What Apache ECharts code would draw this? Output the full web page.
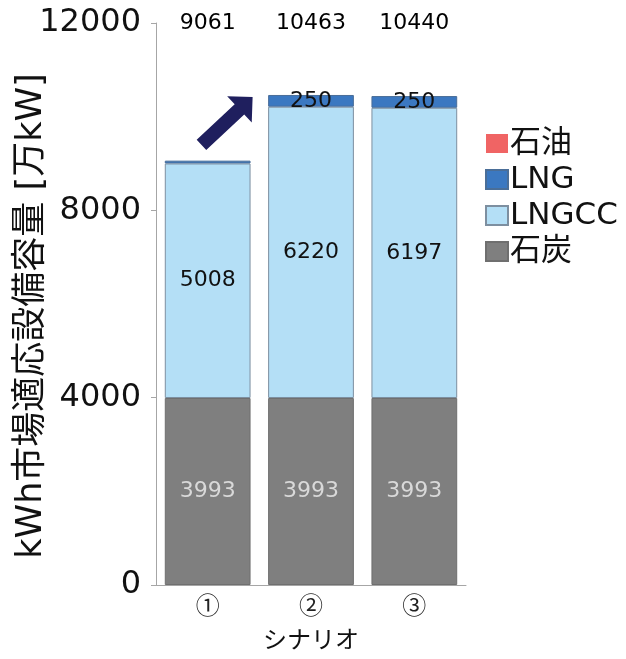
<!DOCTYPE html>
<html>
<head>
<meta charset="utf-8">
<script src="https://cdn.jsdelivr.net/npm/echarts@6/dist/echarts.min.js"></script>
<style>
html,body{margin:0;padding:0;background:#fff;}
#chart{width:626px;height:659px;}
</style>
</head>
<body>
<div id="chart"></div>
<script>
// ---- data ----
const categories = ['①', '②', '③'];
const coal = [3993, 3993, 3993];      // 石炭
const lngcc = [5008, 6220, 6197];     // LNGCC
const lng = [60, 250, 250];           // LNG
const oil = [0, 0, 0];                // 石油
const totals = [9061, 10463, 10440];
const yTicks = { min: 0, max: 12000, interval: 4000 };
// arrow annotation endpoints in data space (category index, value)
const arrowFrom = [-0.06, 9400];
const arrowTo = [0.435, 10420];

const FONT = 'DejaVu Sans, "Noto Sans CJK JP", sans-serif';
const JFONT = '"Noto Sans CJK JP", "DejaVu Sans", sans-serif';

const chart = echarts.init(document.getElementById('chart'));

const option = {
  animation: false,
  backgroundColor: '#ffffff',
  grid: { left: 156, right: 160, top: 23, bottom: 74, containLabel: false, outerBoundsMode: 'none' },
  legend: {
    data: ['石油', 'LNG', 'LNGCC', '石炭'],
    orient: 'vertical',
    left: 480,
    top: 123,
    itemWidth: 22,
    itemHeight: 19,
    itemGap: 5,
    icon: 'rect',
    selectedMode: false,
    textStyle: { fontFamily: FONT, fontSize: 31, color: '#111', lineHeight: 30, padding: [0, 0, 0, -3] }
  },
  xAxis: {
    type: 'category',
    data: categories,
    name: 'シナリオ',
    nameLocation: 'middle',
    nameGap: 42,
    nameTextStyle: { fontFamily: JFONT, fontSize: 24, color: '#111' },
    axisLine: { lineStyle: { color: '#a6a6a6', width: 1 } },
    axisTick: { show: false },
    axisLabel: { fontFamily: JFONT, fontSize: 24, color: '#222', margin: 8 }
  },
  yAxis: {
    type: 'value',
    min: yTicks.min,
    max: yTicks.max,
    interval: yTicks.interval,
    name: 'kWh市場適応設備容量 [万kW]',
    nameLocation: 'middle',
    nameGap: 107,
    nameMoveOverlap: false,
    nameTextStyle: { fontFamily: FONT, fontSize: 35, color: '#111', padding: [0, 24, 0, 0] },
    axisLine: { show: true, lineStyle: { color: '#a6a6a6', width: 1 } },
    axisTick: { show: true, length: 5, lineStyle: { color: '#a6a6a6' } },
    splitLine: { show: false },
    axisLabel: { fontFamily: FONT, fontSize: 32, color: '#111', margin: 15, formatter: v => String(v) }
  },
  series: [
    {
      name: '石炭', type: 'bar', stack: 'total', data: coal,
      barCategoryGap: '17%',
      itemStyle: { color: '#7f7f7f', borderColor: '#6f6f6f', borderWidth: 1 },
      label: { show: true, position: 'inside', fontFamily: FONT, fontSize: 22, color: '#d9d9d9' }
    },
    {
      name: 'LNGCC', type: 'bar', stack: 'total', data: lngcc,
      itemStyle: { color: '#b4dff6', borderColor: '#7d8fa0', borderWidth: 1 },
      label: { show: true, position: 'inside', fontFamily: FONT, fontSize: 22, color: '#111' }
    },
    {
      name: 'LNG', type: 'bar', stack: 'total', data: lng,
      itemStyle: { color: '#3b78c1', borderColor: '#4a6e98', borderWidth: 1 },
      label: {
        show: true, position: 'inside', fontFamily: FONT, fontSize: 22, color: '#111',
        formatter: p => (p.value >= 100 ? String(p.value) : '')
      }
    },
    {
      name: '石油', type: 'bar', stack: 'total', data: oil,
      itemStyle: { color: '#f06464', borderColor: '#d05050', borderWidth: 0 },
      label: { show: false }
    },
    {
      name: 'total', type: 'scatter',
      data: categories.map((c, i) => [i, yTicks.max]),
      symbolSize: 2,
      itemStyle: { color: 'rgba(0,0,0,0)' },
      silent: true,
      clip: false,
      label: {
        show: true, position: 'inside', fontFamily: FONT, fontSize: 22, color: '#000', opacity: 1,
        formatter: p => String(totals[p.dataIndex])
      },
      z: 10
    }
  ]
};
chart.setOption(option);

function dataToPx(pt) {
  const i0 = Math.floor(pt[0]);
  const a = chart.convertToPixel({ gridIndex: 0 }, [i0, pt[1]]);
  const b = chart.convertToPixel({ gridIndex: 0 }, [i0 + 1, pt[1]]);
  const f = pt[0] - i0;
  return [a[0] + (b[0] - a[0]) * f, a[1]];
}

const p0 = dataToPx(arrowFrom);
const p1 = dataToPx(arrowTo);
const dx = p1[0] - p0[0], dy = p1[1] - p0[1];
const L = Math.hypot(dx, dy);
const ux = dx / L, uy = dy / L;
const nx = -uy, ny = ux;
const headLen = 18, headHalf = 18, shaftHalf = 7;
const bx = p1[0] - ux * headLen, by = p1[1] - uy * headLen;
const pts = [
  [p0[0] + nx * shaftHalf, p0[1] + ny * shaftHalf],
  [bx + nx * shaftHalf, by + ny * shaftHalf],
  [bx + nx * headHalf, by + ny * headHalf],
  [p1[0], p1[1]],
  [bx - nx * headHalf, by - ny * headHalf],
  [bx - nx * shaftHalf, by - ny * shaftHalf],
  [p0[0] - nx * shaftHalf, p0[1] - ny * shaftHalf]
];
chart.setOption({
  graphic: [{
    type: 'polygon', shape: { points: pts },
    style: { fill: '#1f1f5e' }, z: 100
  }]
});
</script>
</body>
</html>
